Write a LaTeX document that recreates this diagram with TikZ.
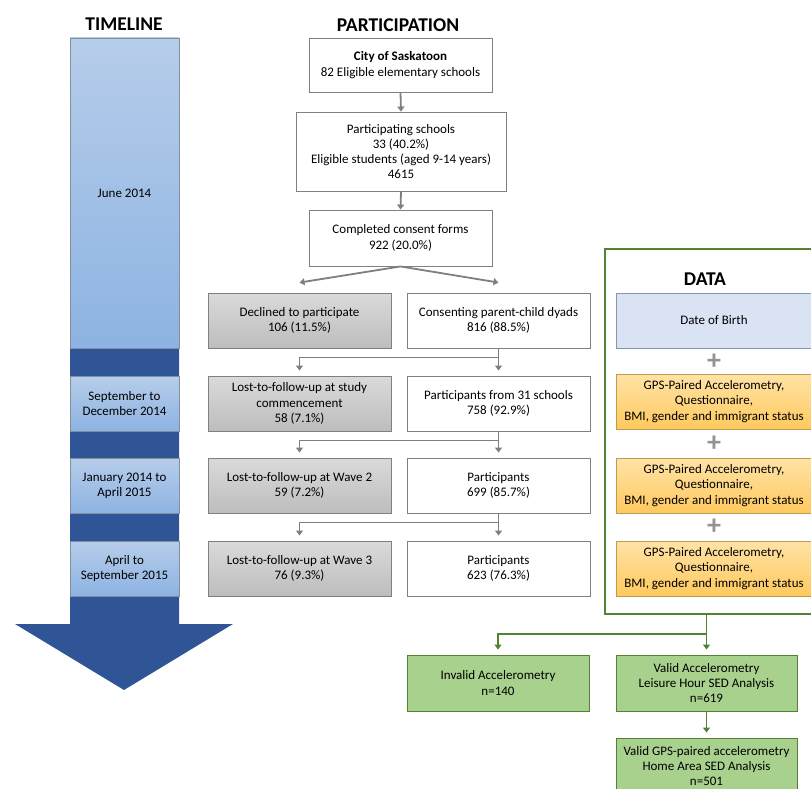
\documentclass[tikz,border=0pt]{standalone}
\usepackage{fontspec}
\setmainfont{Carlito}
\usetikzlibrary{arrows.meta}
\definecolor{tlA}{HTML}{B6CDEA}
\definecolor{tlB}{HTML}{8DB3E2}
\definecolor{navy}{HTML}{2F5597}
\definecolor{bgray}{HTML}{808080}
\definecolor{agray}{HTML}{7F7F7F}
\definecolor{grA}{HTML}{DADADA}
\definecolor{grB}{HTML}{BDBDBD}
\definecolor{dob}{HTML}{DAE3F3}
\definecolor{dobline}{HTML}{8497B0}
\definecolor{orA}{HTML}{FFE3A6}
\definecolor{orB}{HTML}{FFC95E}
\definecolor{orline}{HTML}{BF9B4C}
\definecolor{gfill}{HTML}{A9D18E}
\definecolor{gline}{HTML}{548235}
\tikzset{
  txt/.style={font=\fontsize{13}{15.3}\selectfont, align=center, inner sep=0pt},
  ttl/.style={font=\fontsize{19.5}{21}\selectfont\bfseries, inner sep=0pt},
  whitebox/.style={txt, draw=bgray, line width=0.9pt, fill=white},
  graybox/.style={txt, draw=bgray, line width=0.9pt, top color=grA, bottom color=grB},
  tlbox/.style={txt, draw=bgray!70!tlB, line width=0.7pt, top color=tlA, bottom color=tlB, minimum width=109pt},
  dobbox/.style={txt, draw=dobline, line width=0.9pt, fill=dob, minimum width=196pt, minimum height=55pt},
  orbox/.style={txt, draw=orline, line width=0.9pt, top color=orA, bottom color=orB, minimum width=196pt, minimum height=55pt},
  grbox/.style={txt, draw=gline, line width=0.9pt, fill=gfill, minimum height=56pt},
  pw/.style={minimum width=183pt, minimum height=55pt},
  plusnode/.style={font=\fontsize{28}{28}\selectfont\bfseries, text=agray!85, inner sep=0pt},
  garrow/.style={draw=agray, line width=1.8pt, -{Triangle[length=5pt,width=7pt]}},
  gnarrow/.style={draw=gline, line width=1.8pt, -{Triangle[length=5pt,width=7pt]}},
}
\begin{document}
\begin{tikzpicture}[x=1pt,y=-1pt]
\useasboundingbox (0,0) rectangle (811,789);
\clip (0,0) rectangle (811,789);

% ---------------- TIMELINE ----------------
\node[ttl] (ttimeline) at (124,24) {TIMELINE};
\fill[navy] (70,345) -- (179,345) -- (179,624) -- (233,624) -- (124,690) -- (15,624) -- (70,624) -- cycle;
\node[tlbox, minimum height=310pt] (tjune) at (124.5,193) {June 2014};
\node[tlbox, minimum height=55pt] (tsep) at (124.5,403.5) {September to\\December 2014};
\node[tlbox, minimum height=55pt] (tjan) at (124.5,485.5) {January 2014 to\\April 2015};
\node[tlbox, minimum height=55pt] (tapr) at (124.5,568.5) {April to\\September 2015};

% ---------------- PARTICIPATION ----------------
\node[ttl] (tpart) at (398,25) {PARTICIPATION};
\node[whitebox, minimum width=183pt, minimum height=54pt] (city) at (400.5,65) {\textbf{City of Saskatoon}\\82 Eligible elementary schools};
\node[whitebox, minimum width=210pt, minimum height=79pt] (schools) at (401,151.5) {Participating schools\\33 (40.2\%)\\Eligible students (aged 9-14 years)\\4615};
\node[whitebox, minimum width=183pt, minimum height=56pt] (consent) at (400.5,238) {Completed consent forms\\922 (20.0\%)};
\node[graybox, pw] (declined) at (299.5,320.5) {Declined to participate\\106 (11.5\%)};
\node[whitebox, pw] (dyads) at (498.5,320.5) {Consenting parent-child dyads\\816 (88.5\%)};
\node[graybox, pw] (lost1) at (299.5,403.5) {Lost-to-follow-up at study\\commencement\\58 (7.1\%)};
\node[whitebox, pw] (p758) at (498.5,403.5) {Participants from 31 schools\\758 (92.9\%)};
\node[graybox, pw] (lost2) at (299.5,485.5) {Lost-to-follow-up at Wave 2\\59 (7.2\%)};
\node[whitebox, pw] (p699) at (498.5,485.5) {Participants\\699 (85.7\%)};
\node[graybox, pw] (lost3) at (299.5,568.5) {Lost-to-follow-up at Wave 3\\76 (9.3\%)};
\node[whitebox, pw] (p623) at (498.5,568.5) {Participants\\623 (76.3\%)};

\draw[garrow] (city.south) -- (schools.north);
\draw[garrow] (schools.south) -- (consent.north);
\draw[garrow] (consent.south) -- ([yshift=10pt]declined.north);
\draw[garrow] (consent.south) -- ([yshift=10pt]dyads.north);
\draw[garrow] (dyads.south) -- ([yshift=5pt]p758.north);
\draw[garrow] (dyads.south) ++(0,9) -| ([yshift=5pt]lost1.north);
\draw[garrow] (p758.south) -- ([yshift=5pt]p699.north);
\draw[garrow] (p758.south) ++(0,9) -| ([yshift=5pt]lost2.north);
\draw[garrow] (p699.south) -- ([yshift=5pt]p623.north);
\draw[garrow] (p699.south) ++(0,9) -| ([yshift=5pt]lost3.north);

% ---------------- DATA ----------------
\node[draw=gline, line width=1.8pt, minimum width=225pt, minimum height=365pt, inner sep=0pt] (frame) at (717.5,431.5) {};
\node[ttl] (tdata) at (705,279) {DATA};
\node[dobbox] (dob) at (714,320.5) {Date of Birth};
\node[plusnode] (plus1) at (714,361.5) {+};
\node[orbox] (w1) at (714,401.5) {GPS-Paired Accelerometry,\\Questionnaire,\\BMI, gender and immigrant status};
\node[plusnode] (plus2) at (714,443.5) {+};
\node[orbox] (w2) at (714,485.5) {GPS-Paired Accelerometry,\\Questionnaire,\\BMI, gender and immigrant status};
\node[plusnode] (plus3) at (714,527) {+};
\node[orbox] (w3) at (714,568.5) {GPS-Paired Accelerometry,\\Questionnaire,\\BMI, gender and immigrant status};

\node[grbox, minimum width=182pt] (invalid) at (498,683) {Invalid Accelerometry\\n=140};
\node[grbox, minimum width=181pt] (valid) at (706.5,683) {Valid Accelerometry\\Leisure Hour SED Analysis\\n=619};
\node[grbox, minimum width=181pt] (gps) at (706.5,766) {Valid GPS-paired accelerometry\\Home Area SED Analysis\\n=501};

\draw[gnarrow] (valid.north |- frame.south) -- ([yshift=5pt]valid.north);
\draw[gnarrow] (valid.north |- frame.south) ++(0,19) -| ([yshift=5pt]invalid.north);
\draw[gnarrow] (valid.south) -- ([yshift=5pt]gps.north);
\end{tikzpicture}
\end{document}
